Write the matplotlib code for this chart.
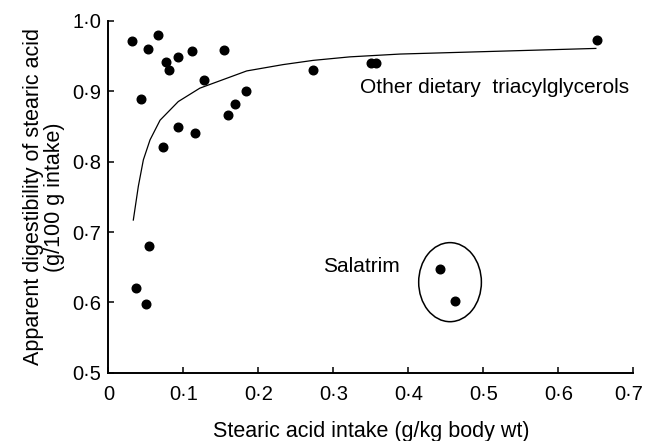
import matplotlib
matplotlib.use('Agg')
import matplotlib.pyplot as plt
import matplotlib.transforms as mtransforms
from matplotlib.patches import Ellipse
from matplotlib.ticker import FuncFormatter

plt.rcParams['font.family'] = ['Liberation Sans', 'DejaVu Sans']

# other dietary triacylglycerols
other_x = [0.032, 0.0525, 0.066, 0.077, 0.081, 0.093, 0.111, 0.154, 0.128, 0.2725,
           0.044, 0.1836, 0.169, 0.1596, 0.0925, 0.116, 0.073, 0.350, 0.357,
           0.651, 0.0547, 0.037, 0.050]
other_y = [0.971, 0.960, 0.980, 0.942, 0.930, 0.949, 0.957, 0.959, 0.916, 0.930,
           0.889, 0.900, 0.882, 0.867, 0.850, 0.841, 0.821, 0.940, 0.940,
           0.973, 0.680, 0.620, 0.598]

# salatrim
sal_x = [0.4427, 0.4627]
sal_y = [0.6475, 0.602]

# fitted curve
curve_x = [0.0333, 0.040, 0.0467, 0.0556, 0.069, 0.0933, 0.122, 0.1845, 0.233,
           0.273, 0.322, 0.389, 0.650]
curve_y = [0.717, 0.765, 0.8026, 0.831, 0.859, 0.8855, 0.9045, 0.929, 0.938,
           0.944, 0.949, 0.953, 0.961]

fig = plt.figure(figsize=(6.46, 4.41), dpi=100)
ax = fig.add_axes([0.1677, 0.1549, 0.8127, 0.7975])

ax.plot(curve_x, curve_y, color='black', lw=0.9)
ax.plot(other_x, other_y, 'o', color='black', ms=6.2, clip_on=False)
ax.plot(sal_x, sal_y, 'o', color='black', ms=6.2)
ax.add_patch(Ellipse((0.4556, 0.6287), 0.0836, 0.1124, fill=False, ec='black', lw=1.1))

ax.text(0.389, 0.651, 'Salatrim', ha='right', va='center', fontsize=15)
ax.text(0.3356, 0.906, 'Other dietary  triacylglycerols', ha='left', va='center', fontsize=15)

ax.set_xlim(0, 0.7)
ax.set_ylim(0.5, 1.0)
ax.set_xticks([0, 0.1, 0.2, 0.3, 0.4, 0.5, 0.6, 0.7])
ax.set_yticks([0.5, 0.6, 0.7, 0.8, 0.9, 1.0])

def fmt(v, pos):
    if abs(v) < 1e-9:
        return '0'
    return f'{v:.1f}'.replace('.', '·')

ax.xaxis.set_major_formatter(FuncFormatter(fmt))
ax.yaxis.set_major_formatter(FuncFormatter(fmt))

for s in ['top', 'right']:
    ax.spines[s].set_visible(False)
for s in ['left', 'bottom']:
    ax.spines[s].set_linewidth(1.4)

ax.tick_params(axis='x', direction='in', length=4, width=1.1, labelsize=14.5, pad=9)
ax.tick_params(axis='y', direction='in', length=4, width=1.1, labelsize=14.5, pad=5)

# last x label sits tight against the right edge in the original
last = ax.xaxis.get_major_ticks()[-1].label1
last.set_transform(last.get_transform() +
                   mtransforms.ScaledTranslation(-5 / 100, 0, fig.dpi_scale_trans))

ax.set_xlabel('Stearic acid intake (g/kg body wt)', fontsize=15.5, labelpad=12)
ax.set_ylabel('Apparent digestibility of stearic acid\n(g/100 g intake)', fontsize=15.5,
              labelpad=5, linespacing=1.0)

fig.savefig('out.png', dpi=100)
